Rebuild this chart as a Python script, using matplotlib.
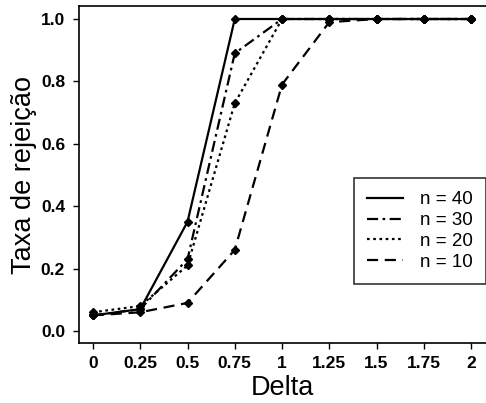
import matplotlib
matplotlib.use("Agg")
import matplotlib.pyplot as plt

plt.rcParams['font.family'] = ['Liberation Sans', 'DejaVu Sans']

delta = [0, 0.25, 0.5, 0.75, 1, 1.25, 1.5, 1.75, 2]
tick_labels = ["0", "0.25", "0.5", "0.75", "1", "1.25", "1.5", "1.75", "2"]

rate_n40 = [0.05, 0.07, 0.35, 1.00, 1.00, 1.00, 1.00, 1.00, 1.00]
rate_n30 = [0.05, 0.07, 0.23, 0.89, 1.00, 1.00, 1.00, 1.00, 1.00]
rate_n20 = [0.06, 0.08, 0.21, 0.73, 1.00, 1.00, 1.00, 1.00, 1.00]
rate_n10 = [0.05, 0.06, 0.09, 0.26, 0.79, 0.99, 1.00, 1.00, 1.00]

series = [
    ("n = 40", rate_n40, "-"),
    ("n = 30", rate_n30, (0, (5, 2, 1.2, 2))),
    ("n = 20", rate_n20, (0, (1.2, 1.6))),
    ("n = 10", rate_n10, (0, (5, 3))),
]

fig = plt.figure(figsize=(4.86, 4.03), dpi=100)
ax = fig.add_axes([79 / 486, 60 / 403, 407 / 486, 337 / 403])

for label, vals, ls in series:
    ax.plot(delta, vals, color="black", linestyle=ls, linewidth=1.6,
            marker="D", markersize=4.5, markerfacecolor="black",
            markeredgecolor="black", label=label)

ax.set_xlim(-0.074, 2.079)
ax.set_ylim(-0.0385, 1.0417)
ax.set_xticks(delta)
ax.set_xticklabels(tick_labels)
ax.set_yticks([0.0, 0.2, 0.4, 0.6, 0.8, 1.0])
ax.set_yticklabels(["0.0", "0.2", "0.4", "0.6", "0.8", "1.0"])

ax.spines['right'].set_visible(False)
for s in ("left", "top", "bottom"):
    ax.spines[s].set_linewidth(1.2)

ax.tick_params(axis="y", direction="out", length=4, width=1, labelsize=12.5, pad=6)
ax.tick_params(axis="x", direction="out", length=4, width=1, labelsize=12.5, pad=5)
for t in ax.get_xticklabels() + ax.get_yticklabels():
    t.set_fontweight("bold")

ax.set_xlabel("Delta", fontsize=19.5, labelpad=3)
ax.set_ylabel("Taxa de rejeição", fontsize=19.5, labelpad=3)

leg = ax.legend(loc="upper left", bbox_to_anchor=(354 / 486, (403 - 178) / 403),
                bbox_transform=fig.transFigure,
                fontsize=13.5, frameon=True, fancybox=False, edgecolor="black",
                handlelength=1.9, handletextpad=0.9, labelspacing=0.2,
                borderpad=0.7, borderaxespad=0)
leg.get_frame().set_linewidth(1.2)
for h in leg.legend_handles:
    h.set_marker("")

fig.savefig("out.png", dpi=100)
